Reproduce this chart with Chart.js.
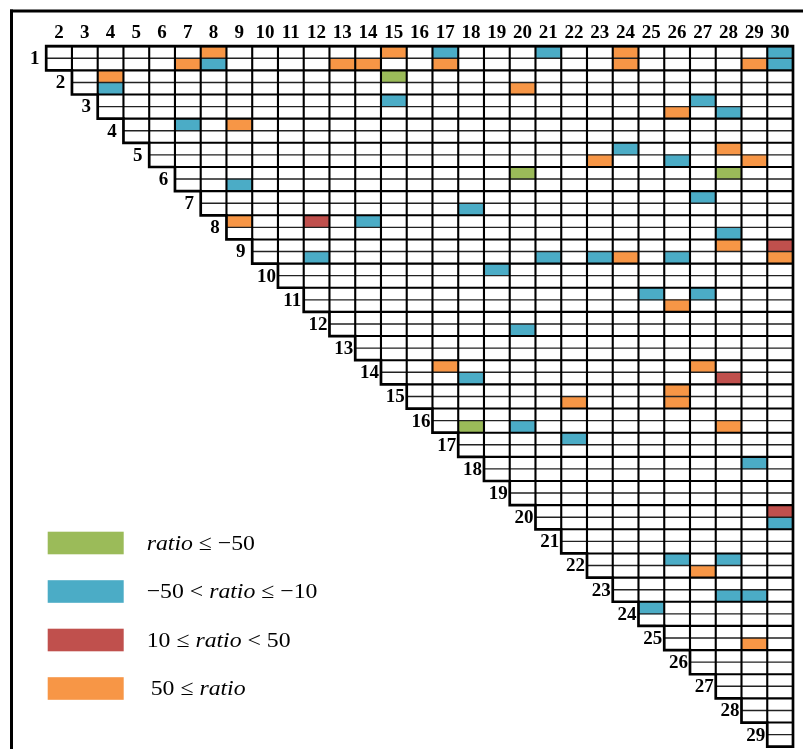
<!DOCTYPE html>
<html>
<head>
<meta charset="utf-8">
<script src="https://cdn.jsdelivr.net/npm/chart.js@4.4.1/dist/chart.umd.min.js"></script>
<style>
  html, body { margin: 0; padding: 0; background: #ffffff; }
  #wrap { width: 803px; height: 749px; position: relative; }
</style>
</head>
<body>
<div id="wrap"><canvas id="chart" width="803" height="749"></canvas></div>
<script>
// Pairwise matrix: rows 1..29, columns 2..30, cell (i, j) exists for j > i.
// Every cell is split into an upper half (0) and a lower half (1).
const columns = ['2','3','4','5','6','7','8','9','10','11','12','13','14','15','16',
                 '17','18','19','20','21','22','23','24','25','26','27','28','29','30'];
const rows = [1,2,3,4,5,6,7,8,9,10,11,12,13,14,15,16,17,18,19,20,21,22,23,24,25,26,27,28,29];

// [row, column, half]
const ratioAtMostMinus50 = [
  [2,15,0], [6,20,0], [6,28,0], [16,18,1]
];
const ratioMinus50ToMinus10 = [
  [1,17,0], [1,21,0], [1,30,0], [1,8,1], [1,30,1],
  [2,4,1],
  [3,15,0], [3,27,0], [3,28,1],
  [4,7,0],
  [5,24,0], [5,26,1],
  [6,9,1],
  [7,27,0], [7,18,1],
  [8,14,0], [8,28,1],
  [9,12,1], [9,21,1], [9,23,1], [9,26,1],
  [10,19,0],
  [11,25,0], [11,27,0],
  [12,20,1],
  [14,18,1],
  [16,20,1],
  [17,22,0],
  [18,29,0],
  [20,30,1],
  [22,26,0], [22,28,0],
  [23,28,1], [23,29,1],
  [24,25,0]
];
const ratio10To50 = [
  [8,12,0], [9,30,0], [14,28,1], [20,30,0]
];
const ratioAtLeast50 = [
  [1,8,0], [1,15,0], [1,24,0], [1,7,1], [1,13,1], [1,14,1], [1,17,1], [1,24,1], [1,29,1],
  [2,4,0], [2,20,1],
  [3,26,1],
  [4,9,0],
  [5,28,0], [5,23,1], [5,29,1],
  [8,9,0],
  [9,28,0], [9,24,1], [9,30,1],
  [11,26,1],
  [14,17,0], [14,27,0],
  [15,26,0], [15,22,1], [15,26,1],
  [16,28,1],
  [22,27,1],
  [25,29,1]
];

// Legend texts: [text, italic]
const legendLabels = [
  [['ratio', true], [' \u2264 \u221250', false]],
  [['\u221250 < ', false], ['ratio', true], [' \u2264 \u221210', false]],
  [['10 \u2264 ', false], ['ratio', true], [' < 50', false]],
  [['50 \u2264 ', false], ['ratio', true]]
];

const palette = ['#9BBB59', '#4BACC6', '#C0504D', '#F79646'];

function toBars(cells) {
  return cells.map(([r, c, h]) => ({
    x: String(c),
    y: h === 0 ? [r - 0.5, r] : [r, r + 0.5]
  }));
}

const groups = [ratioAtMostMinus50, ratioMinus50ToMinus10, ratio10To50, ratioAtLeast50];

const datasets = groups.map((cells, k) => ({
  label: 'group' + k,
  data: toBars(cells),
  backgroundColor: palette[k],
  borderWidth: 0,
  grouped: false,
  barPercentage: 1,
  categoryPercentage: 1
}));

const serif = '"Liberation Serif", "Times New Roman", serif';

// Outer frame lines (left and top)
const framePlugin = {
  id: 'frame',
  afterDraw(chart) {
    const ctx = chart.ctx;
    ctx.save();
    ctx.fillStyle = '#000';
    ctx.fillRect(10, 9.5, 793, 3);
    ctx.fillRect(10, 9.5, 3, 740);
    ctx.restore();
  }
};

// Cell borders, half dividers, staircase outline and row labels
const gridPlugin = {
  id: 'grid',
  afterDatasetsDraw(chart) {
    const { ctx, scales: { x, y } } = chart;
    const colW = Math.abs(x.getPixelForValue(1) - x.getPixelForValue(0));
    const left = c => x.getPixelForValue(columns.indexOf(String(c))) - colW / 2;
    const lastCol = Number(columns[columns.length - 1]);
    const xEnd = left(lastCol) + colW;
    const firstRow = rows[0], lastRow = rows[rows.length - 1];

    ctx.save();
    ctx.lineCap = 'butt';

    // half dividers
    ctx.strokeStyle = '#222';
    ctx.lineWidth = 1.4;
    ctx.beginPath();
    rows.forEach(r => {
      const ym = y.getPixelForValue(r);
      ctx.moveTo(left(r + 1), ym);
      ctx.lineTo(xEnd, ym);
    });
    ctx.stroke();

    // cell borders
    ctx.strokeStyle = '#000';
    ctx.lineWidth = 2.1;
    ctx.beginPath();
    rows.forEach(r => {
      const yt = y.getPixelForValue(r - 0.5);
      const yb = y.getPixelForValue(r + 0.5);
      ctx.moveTo(left(r + 1), yt);
      ctx.lineTo(xEnd, yt);
      for (let c = r + 2; c <= lastCol; c++) {
        ctx.moveTo(left(c), yt);
        ctx.lineTo(left(c), yb);
      }
    });
    ctx.stroke();

    // staircase outline
    ctx.lineWidth = 2.7;
    ctx.lineJoin = 'miter';
    ctx.beginPath();
    ctx.moveTo(left(firstRow + 1), y.getPixelForValue(firstRow - 0.5));
    ctx.lineTo(xEnd, y.getPixelForValue(firstRow - 0.5));
    ctx.lineTo(xEnd, y.getPixelForValue(lastRow + 0.5));
    for (let r = lastRow; r >= firstRow; r--) {
      ctx.lineTo(left(r + 1), y.getPixelForValue(r + 0.5));
      ctx.lineTo(left(r + 1), y.getPixelForValue(r - 0.5));
    }
    ctx.closePath();
    ctx.stroke();

    // row labels beside the diagonal
    ctx.fillStyle = '#000';
    ctx.font = 'bold 19px ' + serif;
    ctx.textAlign = 'center';
    ctx.textBaseline = 'middle';
    rows.forEach(r => {
      ctx.fillText(String(r), left(r + 1) - 11.5, y.getPixelForValue(r) + 1);
    });
    ctx.restore();
  }
};

// Colour key in the empty lower-left area
const keyPlugin = {
  id: 'key',
  afterDraw(chart) {
    const ctx = chart.ctx;
    const boxX = 47.7, boxW = 76, boxH = 22.6;
    const firstTop = 531.7, step = 48.5;
    const textX = 146.7, stretch = 1.08;
    const indent = [0, 0, 0, 4];
    ctx.save();
    chart.data.datasets.forEach((ds, k) => {
      const top = firstTop + k * step;
      ctx.fillStyle = ds.backgroundColor;
      ctx.fillRect(boxX, top, boxW, boxH);

      ctx.save();
      ctx.translate(textX + indent[k], top + boxH / 2 + 6.5);
      ctx.scale(stretch, 1);
      ctx.fillStyle = '#000';
      ctx.textBaseline = 'alphabetic';
      ctx.textAlign = 'left';
      let cx = 0;
      legendLabels[k].forEach(([txt, italic]) => {
        ctx.font = (italic ? 'italic ' : '') + '22px ' + serif;
        ctx.fillText(txt, cx, 0);
        cx += ctx.measureText(txt).width;
      });
      ctx.restore();
    });
    ctx.restore();
  }
};

new Chart(document.getElementById('chart'), {
  type: 'bar',
  data: { labels: columns, datasets },
  options: {
    responsive: false,
    animation: false,
    devicePixelRatio: 1,
    events: [],
    layout: { padding: { left: 46.2, right: 10, top: 0, bottom: 2.3 } },
    plugins: {
      legend: { display: false },
      tooltip: { enabled: false }
    },
    scales: {
      x: {
        type: 'category',
        position: 'top',
        offset: true,
        grid: { display: false, drawTicks: false },
        border: { display: false },
        ticks: {
          autoSkip: false,
          maxRotation: 0,
          padding: 1.5,
          color: '#000',
          font: { family: serif, weight: 'bold', size: 19 }
        },
        afterFit(scale) { scale.height = 46.2; }
      },
      y: {
        type: 'linear',
        reverse: true,
        min: 0.5,
        max: 29.5,
        display: false
      }
    }
  },
  plugins: [framePlugin, gridPlugin, keyPlugin]
});
</script>
</body>
</html>
